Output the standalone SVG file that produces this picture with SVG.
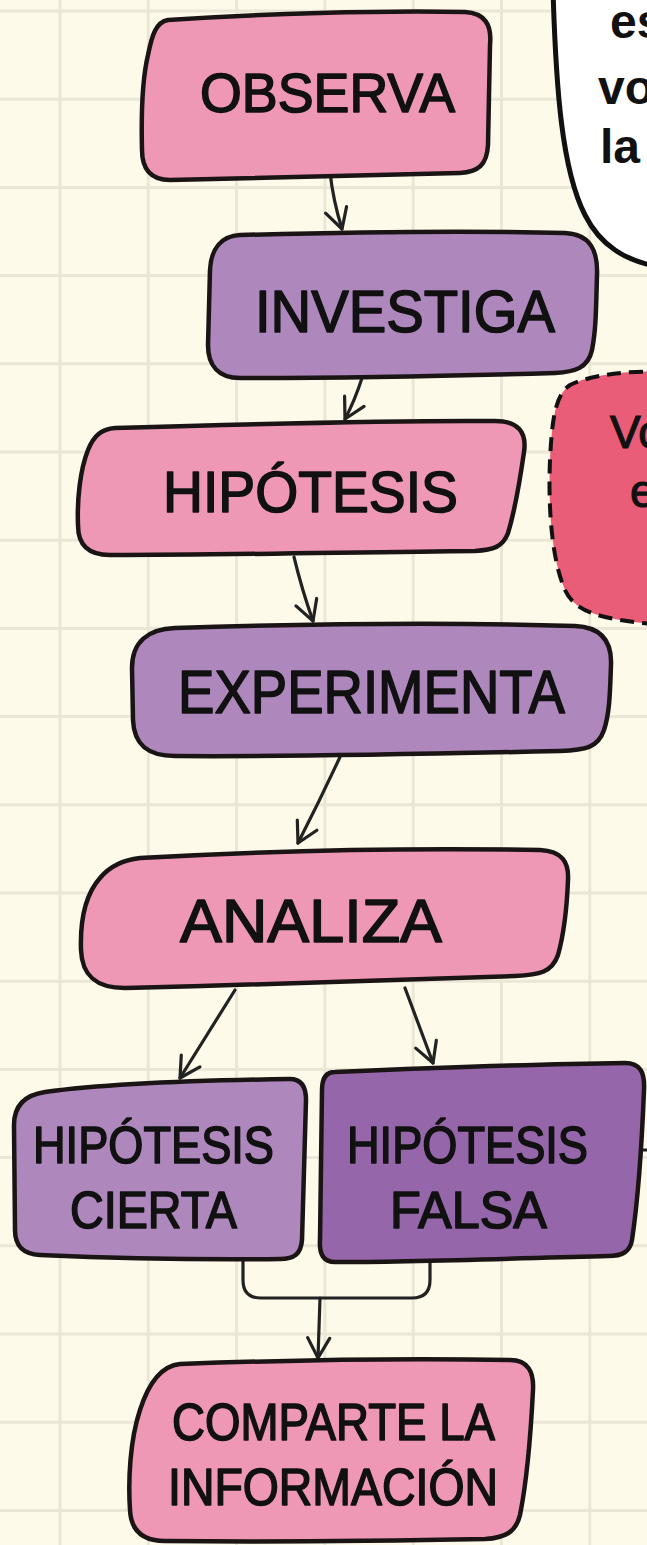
<svg xmlns="http://www.w3.org/2000/svg" width="647" height="1545" viewBox="0 0 647 1545">
<style>
.grid{stroke:#ebe6d5;stroke-width:3;fill:none}
.node{stroke:#1a1414;stroke-width:4.5;stroke-linejoin:round}
.pink{fill:#ef98b6}
.lav{fill:#ae87bd}
.dark{fill:#9566a9}
.lbl{font-family:"Liberation Sans",Arial,sans-serif;fill:#111;stroke:#111;stroke-width:1.6;stroke-linejoin:round}
.con{fill:none;stroke:#222;stroke-width:3.2;stroke-linecap:round;stroke-linejoin:round}
</style>
<defs>
<marker id="arr" viewBox="-24 -14 26 28" refX="0" refY="0" markerWidth="26" markerHeight="28" markerUnits="userSpaceOnUse" orient="auto">
<path d="M -20,-11 L 0,0 L -20,11" fill="none" stroke="#222" stroke-width="3.2" stroke-linecap="round" stroke-linejoin="round"/>
</marker>
</defs>
<rect width="647" height="1545" fill="#fdfaea"/>
<g id="grid" class="grid">
<path d="M60,0V1545M148.3,0V1545M236.6,0V1545M324.9,0V1545M413.2,0V1545M501.5,0V1545M589.8,0V1545"/>
<path d="M0,11H647M0,99.2H647M0,187.4H647M0,275.6H647M0,363.8H647M0,452H647M0,540.2H647M0,628.4H647M0,716.6H647M0,804.8H647M0,893H647M0,981.2H647M0,1069.4H647M0,1157.6H647M0,1245.8H647M0,1334H647M0,1422.2H647M0,1510.4H647"/>
</g>
<g id="bubble">
<path d="M553,-10 C556,90 562,170 585,215 C600,245 625,262 665,268 L665,-10 Z" fill="#ffffff" stroke="#111" stroke-width="5"/>
<text font-family="Liberation Sans, Arial, sans-serif" font-weight="bold" font-size="48" fill="#111"><tspan x="610" y="38">es</tspan><tspan x="598" y="104">vo</tspan><tspan x="600" y="163">la</tspan></text>
</g>
<g id="note">
<path d="M665,372 C630,370 590,375 570,385 C555,395 552,420 550,460 C548,510 552,560 565,590 C575,612 600,620 665,625 Z" fill="#e95d79" stroke="#111" stroke-width="4" stroke-dasharray="14 8"/>
<text font-family="Liberation Sans, Arial, sans-serif" font-size="46" fill="#111" stroke="#111" stroke-width="1.2"><tspan x="610" y="448">Vo</tspan><tspan x="630" y="507">e</tspan></text>
</g>
<g id="connectors">
<path class="con" marker-end="url(#arr)" d="M330,172 Q333,200 342,229"/>
<path class="con" marker-end="url(#arr)" d="M362,378 Q355,400 345,419"/>
<path class="con" marker-end="url(#arr)" d="M294,557 Q302,590 313,621"/>
<path class="con" marker-end="url(#arr)" d="M340,757 Q320,800 298,843"/>
<path class="con" marker-end="url(#arr)" d="M235,990 L180,1078"/>
<path class="con" marker-end="url(#arr)" d="M405,988 L433,1063"/>
<path class="con" d="M243,1260 L243,1280 Q243,1298 261,1298 L412,1298 Q430,1298 430,1280 L430,1262"/>
<path class="con" marker-end="url(#arr)" d="M320,1298 L318,1358"/>
<path class="con" d="M643,1150 L650,1150"/>
</g>
<g id="observa">
<path class="node pink" d="M168,20 C260,14 380,10 465,12 C485,13 492,25 490,45 L488,145 C487,165 478,172 460,173 C360,175 260,178 170,180 C150,180 142,168 142,150 C141,110 142,80 148,55 C152,35 156,22 168,20 Z"/>
<text class="lbl" x="200" y="112" font-size="56" textLength="255" lengthAdjust="spacingAndGlyphs">OBSERVA</text>
</g>
<g id="investiga">
<path class="node lav" d="M240,235 C350,232 460,230 565,233 C590,234 598,250 597,275 C596,310 596,330 592,350 C588,368 575,372 555,373 C450,376 340,378 240,378 C218,378 208,365 208,345 L210,270 C211,248 222,236 240,235 Z"/>
<text class="lbl" x="255" y="332" font-size="60" textLength="300" lengthAdjust="spacingAndGlyphs">INVESTIGA</text>
</g>
<g id="hipotesis">
<path class="node pink" d="M115,428 C250,424 390,420 495,421 C518,421 527,432 524,452 C520,480 515,510 508,533 C503,547 493,550 475,551 C360,552 230,555 110,555 C88,555 78,545 78,525 C77,500 80,470 88,450 C94,435 102,429 115,428 Z"/>
<text class="lbl" x="163" y="512" font-size="58" textLength="295" lengthAdjust="spacingAndGlyphs">HIPÓTESIS</text>
</g>
<g id="experimenta">
<path class="node lav" d="M175,628 C300,624 450,622 575,626 C600,627 612,640 611,665 C610,690 610,712 604,730 C598,748 585,750 560,751 C430,754 300,757 175,756 C148,756 134,745 133,720 L132,668 C132,642 148,629 175,628 Z"/>
<text class="lbl" x="178" y="713" font-size="61" textLength="387" lengthAdjust="spacingAndGlyphs">EXPERIMENTA</text>
</g>
<g id="analiza">
<path class="node pink" d="M140,858 C280,850 420,848 540,850 C562,851 569,862 568,880 C567,905 565,930 558,955 C552,972 540,975 515,976 C400,980 260,985 125,988 C95,988 82,975 81,950 C80,920 85,895 100,878 C110,866 122,860 140,858 Z"/>
<text class="lbl" x="180" y="942" font-size="61" textLength="262" lengthAdjust="spacingAndGlyphs">ANALIZA</text>
</g>
<g id="cierta">
<path class="node lav" d="M45,1092 C120,1082 220,1080 290,1079 C302,1079 306,1088 306,1100 L302,1240 C301,1254 294,1259 280,1259 C200,1260 110,1258 40,1255 C22,1254 15,1245 15,1230 L14,1125 C14,1105 25,1095 45,1092 Z"/>
<text class="lbl" x="33" y="1163" font-size="52" textLength="241" lengthAdjust="spacingAndGlyphs">HIPÓTESIS</text>
<text class="lbl" x="70" y="1228" font-size="52" textLength="167" lengthAdjust="spacingAndGlyphs">CIERTA</text>
</g>
<g id="falsa">
<path class="node dark" d="M335,1072 C430,1068 540,1064 625,1063 C640,1063 645,1072 644,1090 C642,1140 638,1200 632,1240 C630,1252 622,1256 608,1256 C520,1258 420,1262 335,1262 C324,1262 319,1255 320,1240 L322,1090 C322,1078 326,1072 335,1072 Z"/>
<text class="lbl" x="347" y="1163" font-size="52" textLength="241" lengthAdjust="spacingAndGlyphs">HIPÓTESIS</text>
<text class="lbl" x="390" y="1228" font-size="52" textLength="157" lengthAdjust="spacingAndGlyphs">FALSA</text>
</g>
<g id="comparte">
<path class="node pink" d="M180,1364 C290,1360 410,1358 510,1360 C528,1360 534,1372 533,1390 C531,1430 527,1480 520,1515 C516,1532 505,1538 485,1539 C380,1541 270,1542 165,1541 C142,1541 131,1530 130,1510 C128,1480 130,1440 140,1410 C148,1385 160,1366 180,1364 Z"/>
<text class="lbl" x="172" y="1440" font-size="52" textLength="323" lengthAdjust="spacingAndGlyphs">COMPARTE LA</text>
<text class="lbl" x="168" y="1505" font-size="52" textLength="330" lengthAdjust="spacingAndGlyphs">INFORMACIÓN</text>
</g>
</svg>
